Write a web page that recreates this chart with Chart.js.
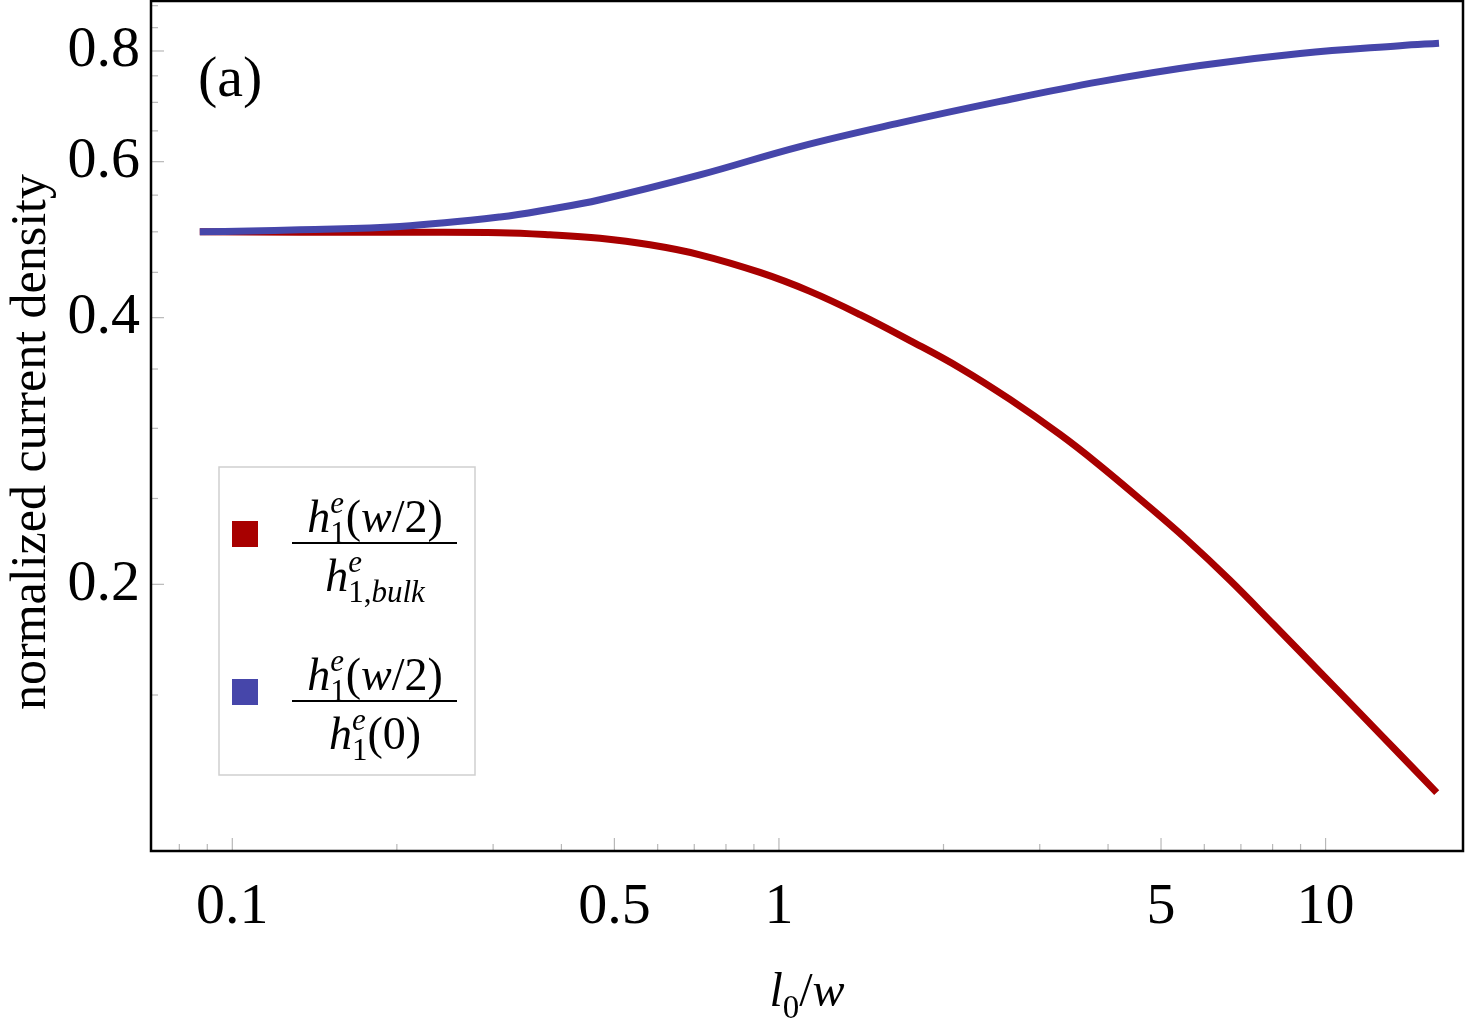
<!DOCTYPE html>
<html>
<head>
<meta charset="utf-8">
<script src="https://cdn.jsdelivr.net/npm/chart.js@4.4.1/dist/chart.umd.min.js"></script>
<style>
  html, body { margin: 0; padding: 0; background: #fff; }
</style>
</head>
<body>
<canvas id="myCanvas" width="1465" height="1032"></canvas>
<script>
/* Values: l0/w on the x axis and the two
   normalized current densities on the y axis (both axes logarithmic). */
/* red curve: h1e(w/2) / h1e,bulk */
var bulk_x = [0.0872, 0.1329, 0.2025, 0.3088, 0.3812, 0.4706, 0.5808, 0.7168, 0.9231, 1.1395, 1.4069, 1.7367,
              2.1441, 2.6463, 3.2667, 3.8137, 4.6399, 5.5702, 6.6849, 8.0244, 9.6323, 11.556, 13.679, 15.97];
var bulk_y = [0.500, 0.4995, 0.4993, 0.4988, 0.4961, 0.4916, 0.4834, 0.4710, 0.4499, 0.4283, 0.4032, 0.3769,
              0.3510, 0.3234, 0.2953, 0.2742, 0.2478, 0.2247, 0.2021, 0.1803, 0.1606, 0.1431, 0.1285, 0.1164];
/* blue curve: h1e(w/2) / h1e(0) */
var center_x = [0.0872, 0.1075, 0.1329, 0.2025, 0.3088, 0.3812, 0.4706, 0.7168, 1.0925, 1.6648, 2.537, 3.867,
                5.8935, 8.9826, 13.679, 16.125];
var center_y = [0.500, 0.5011, 0.5027, 0.5070, 0.5196, 0.5302, 0.5434, 0.5797, 0.6240, 0.6636, 0.7017, 0.7387,
                0.7704, 0.7948, 0.8111, 0.8162];

/* tick labels and minor tick positions */
var x_tick_labels = [0.1, 0.5, 1, 5, 10];
var x_minor_ticks = [0.08, 0.09, 0.2, 0.3, 0.4, 0.6, 0.7, 0.8, 0.9, 2, 3, 4, 6, 7, 8, 9];
var y_tick_labels = [0.2, 0.4, 0.6, 0.8];
var y_minor_ticks = [0.15, 0.25, 0.3, 0.35, 0.45, 0.5, 0.55, 0.65, 0.7, 0.75, 0.85, 0.9];

/* legend texts as math tokens: [text, italic, level]  level 1 = sup, -1 = sub */
var num_tokens  = [['h',1,0],['e',1,1],['1',0,-1],['(',0,0],['w',1,0],['/',0,0],['2',0,0],[')',0,0]];
var den_bulk    = [['h',1,0],['e',1,1],['1,',0,-1],['bulk',1,-1]];
var den_zero    = [['h',1,0],['e',1,1],['1',0,-1],['(0)',0,0]];
var x_title_tokens = [['l',1,0],['0',0,-1],['/',0,0],['w',1,0]];
var y_title = 'normalized current density';
var panel_label = '(a)';

var red  = '#a80000';
var blue = '#4646aa';
var serif = '"Liberation Serif", "Times New Roman", serif';

function pts(xs, ys) {
  return xs.map(function(x, i) { return { x: x, y: ys[i] }; });
}

/* draw (or only measure) a row of math tokens, superscript stacked over subscript */
function drawTok(ctx, t, px, x, y, draw) {
  var sz = t[2] === 0 ? px : Math.round(px * 0.68);
  var dy = t[2] === 1 ? -px * 0.42 : (t[2] === -1 ? px * 0.24 : 0);
  ctx.font = (t[1] ? 'italic ' : '') + sz + 'px ' + serif;
  if (draw) ctx.fillText(t[0], x, y + dy);
  return ctx.measureText(t[0]).width;
}
function layoutMath(ctx, toks, px, x, y, draw) {
  var cx = x, i = 0;
  while (i < toks.length) {
    var t = toks[i];
    if (t[2] === 1 && toks[i + 1] && toks[i + 1][2] === -1) {
      var w1 = drawTok(ctx, t, px, cx, y, draw);
      var w2 = 0, j = i + 1;
      while (j < toks.length && toks[j][2] === -1) {
        w2 += drawTok(ctx, toks[j], px, cx + w2, y, draw);
        j++;
      }
      cx += Math.max(w1, w2);
      i = j;
    } else {
      cx += drawTok(ctx, t, px, cx, y, draw);
      i++;
    }
  }
  return cx - x;
}
function drawMathCentered(ctx, toks, px, cx, y) {
  var w = layoutMath(ctx, toks, px, 0, 0, false);
  layoutMath(ctx, toks, px, cx - w / 2, y, true);
}

/* frame, inside tick marks, titles, panel label and the fraction legend */
var decorations = {
  id: 'decorations',
  beforeDatasetsDraw: function(chart) {
    var ctx = chart.ctx, a = chart.chartArea, xs = chart.scales.x, ys = chart.scales.y;
    ctx.save();
    ctx.strokeStyle = '#b8b8b8';
    ctx.lineWidth = 1.2;
    function line(x1, y1, x2, y2) { ctx.beginPath(); ctx.moveTo(x1, y1); ctx.lineTo(x2, y2); ctx.stroke(); }
    x_tick_labels.forEach(function(v) { var p = xs.getPixelForValue(v); line(p, a.bottom, p, a.bottom - 13); });
    x_minor_ticks.forEach(function(v) { var p = xs.getPixelForValue(v); line(p, a.bottom, p, a.bottom - 7); });
    y_tick_labels.forEach(function(v) { var p = ys.getPixelForValue(v); line(a.left, p, a.left + 13, p); });
    y_minor_ticks.forEach(function(v) { var p = ys.getPixelForValue(v); line(a.left, p, a.left + 7, p); });
    ctx.restore();
  },
  afterDraw: function(chart) {
    var ctx = chart.ctx, a = chart.chartArea;
    ctx.save();
    ctx.strokeStyle = '#000';
    ctx.lineWidth = 2.5;
    ctx.strokeRect(a.left, a.top, a.right - a.left, a.bottom - a.top);

    ctx.fillStyle = '#000';
    ctx.textBaseline = 'alphabetic';
    ctx.textAlign = 'left';
    ctx.font = '58px ' + serif;
    ctx.fillText(panel_label, a.left + 47, a.top + 95);

    /* axis titles */
    drawMathCentered(ctx, x_title_tokens, 48, (a.left + a.right) / 2, 1006);
    ctx.save();
    ctx.translate(32, a.top + 441);
    ctx.rotate(-Math.PI / 2);
    ctx.textAlign = 'center';
    ctx.textBaseline = 'middle';
    ctx.font = '50px ' + serif;
    ctx.fillText(y_title, 0, 0);
    ctx.restore();

    /* legend box */
    var lx = a.left + 68, ly = a.top + 466;
    ctx.fillStyle = '#fff';
    ctx.fillRect(lx, ly, 256, 308);
    ctx.strokeStyle = '#cfcfcf';
    ctx.lineWidth = 1.5;
    ctx.strokeRect(lx, ly, 256, 308);
    var items = [
      { color: red,  den: den_bulk, top: 54 },
      { color: blue, den: den_zero, top: 212 }
    ];
    items.forEach(function(it) {
      var y0 = ly + it.top;
      ctx.fillStyle = it.color;
      ctx.fillRect(lx + 13, y0, 26, 26);
      var barY = y0 + 22, cx = lx + 156;
      ctx.strokeStyle = '#000';
      ctx.lineWidth = 2;
      ctx.beginPath();
      ctx.moveTo(lx + 73, barY);
      ctx.lineTo(lx + 238, barY);
      ctx.stroke();
      ctx.fillStyle = '#000';
      drawMathCentered(ctx, num_tokens, 46, cx, barY - 11);
      drawMathCentered(ctx, it.den, 46, cx, barY + 48);
    });
    ctx.restore();
  }
};

var myChart = new Chart(document.getElementById('myCanvas'), {
  type: 'line',
  data: {
    datasets: [{
        label: 'h1e(w/2) / h1e(0)',
        data: pts(center_x, center_y),
        borderColor: blue,
        borderWidth: 7,
        pointRadius: 0,
        tension: 0.4,
        order: 0
      },
      {
        label: 'h1e(w/2) / h1e,bulk',
        data: pts(bulk_x, bulk_y),
        borderColor: red,
        borderWidth: 7,
        pointRadius: 0,
        tension: 0.4,
        order: 1
    }]
  },
  options: {
    responsive: false,
    animation: false,
    devicePixelRatio: 1,
    layout: { padding: { top: 1, right: 2, left: 0, bottom: 0 } },
    plugins: {
      legend: { display: false },
      tooltip: { enabled: false }
    },
    scales: {
      x: {
        type: 'logarithmic',
        min: 0.071,
        max: 17.84,
        afterFit: function(scale) {
          scale.height = 181;
          scale.paddingLeft = 0;
          scale.paddingRight = 0;
        },
        afterBuildTicks: function(scale) {
          scale.ticks = x_tick_labels.map(function(v) { return { value: v }; });
        },
        ticks: {
          autoSkip: false,
          maxRotation: 0,
          padding: 22,
          color: '#000',
          font: { family: serif, size: 58 },
          callback: function(v) { return String(v); }
        },
        grid: { display: true, drawOnChartArea: false, drawTicks: false },
        border: { display: false }
      },
      y: {
        type: 'logarithmic',
        min: 0.1,
        max: 0.911,
        afterFit: function(scale) {
          scale.width = 151;
          scale.paddingTop = 0;
          scale.paddingBottom = 0;
        },
        afterBuildTicks: function(scale) {
          scale.ticks = y_tick_labels.map(function(v) { return { value: v }; });
        },
        ticks: {
          autoSkip: false,
          padding: 11,
          color: '#000',
          font: { family: serif, size: 58 },
          callback: function(v) { return String(v); }
        },
        grid: { display: true, drawOnChartArea: false, drawTicks: false },
        border: { display: false }
      }
    }
  },
  plugins: [decorations]
});
</script>
</body>
</html>
